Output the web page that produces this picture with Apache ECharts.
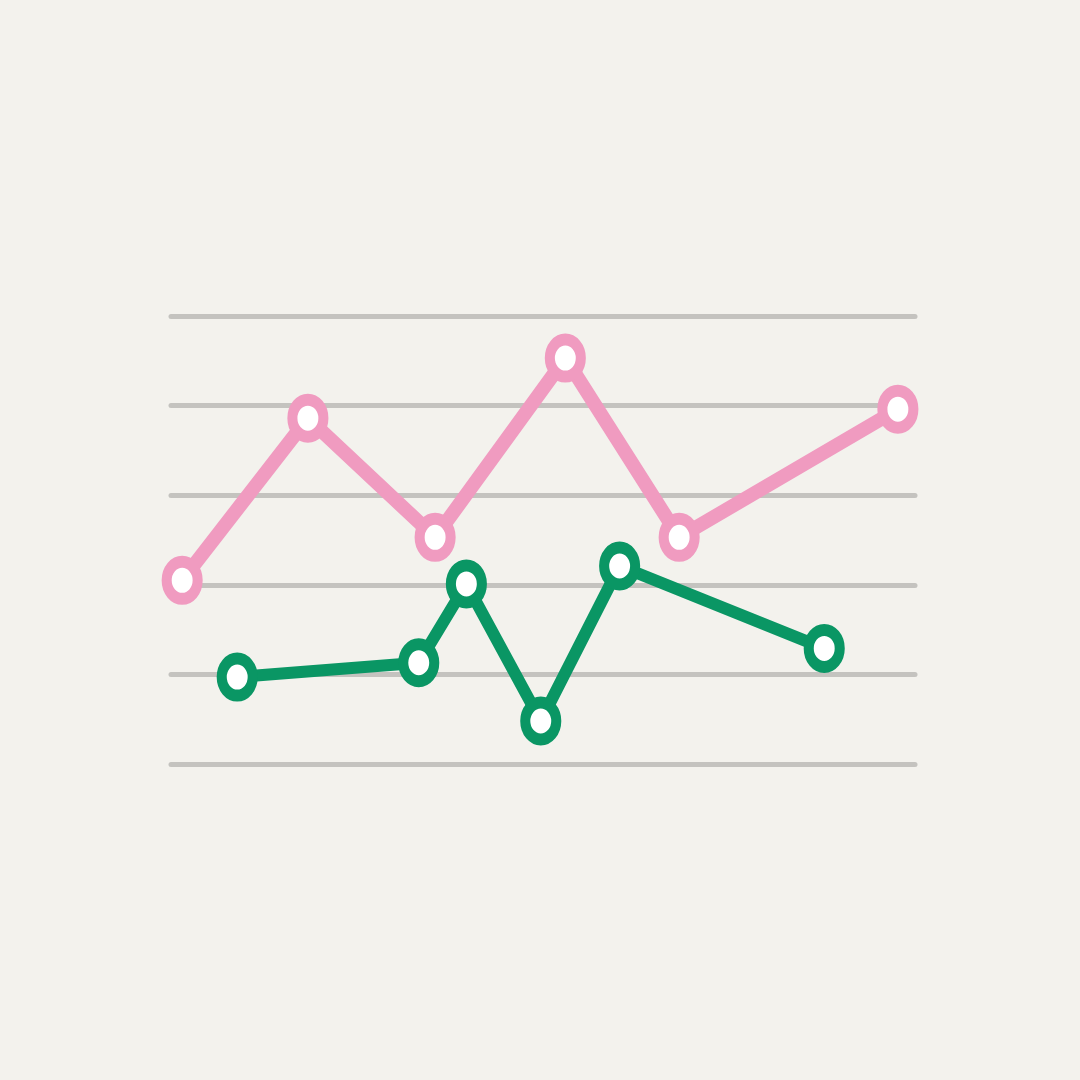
<!DOCTYPE html>
<html>
<head>
<meta charset="utf-8">
<script src="https://cdn.jsdelivr.net/npm/echarts@6/dist/echarts.min.js"></script>
<style>
html,body{margin:0;padding:0;background:#f3f2ed;}
#c{width:1080px;height:1080px;}
</style>
</head>
<body>
<div id="c"></div>
<script>
// Data (x on a 0..100 scale, y on a 0..5 scale)
var pinkX = [1.5, 18.4, 35.5, 53.0, 68.3, 97.7];
var pinkY = [2.05, 3.86, 2.53, 4.53, 2.53, 3.96];
var greenX = [8.9, 33.3, 39.7, 49.7, 60.3, 87.8];
var greenY = [0.97, 1.13, 2.01, 0.48, 2.21, 1.29];
var yTicks = [0, 1, 2, 3, 4, 5];

function pairs(xs, ys){ return xs.map(function(x,i){ return [x, ys[i]]; }); }

var chart = echarts.init(document.getElementById('c'));
chart.setOption({
  backgroundColor: '#f3f2ed',
  animation: false,
  grid: {left: 171, right: 165, top: 316, bottom: 316},
  xAxis: {type: 'value', min: 0, max: 100, show: false, splitLine: {show: false}},
  yAxis: {
    type: 'value', min: yTicks[0], max: yTicks[yTicks.length-1], interval: 1,
    axisLine: {show: false}, axisTick: {show: false}, axisLabel: {show: false},
    splitLine: {show: true, lineStyle: {color: '#c4c3bf', width: 5, cap: 'round'}}
  },
  series: [
    {
      type: 'line', data: pairs(pinkX, pinkY),
      symbol: 'circle', symbolSize: [31, 37], showAllSymbol: true,
      lineStyle: {color: '#f09bc0', width: 14},
      itemStyle: {color: '#ffffff', borderColor: '#f09bc0', borderWidth: 11},
      z: 3
    },
    {
      type: 'line', data: pairs(greenX, greenY),
      symbol: 'circle', symbolSize: [31, 37], showAllSymbol: true,
      lineStyle: {color: '#0a9664', width: 12},
      itemStyle: {color: '#ffffff', borderColor: '#0a9664', borderWidth: 11},
      z: 4
    }
  ]
});
</script>
</body>
</html>
